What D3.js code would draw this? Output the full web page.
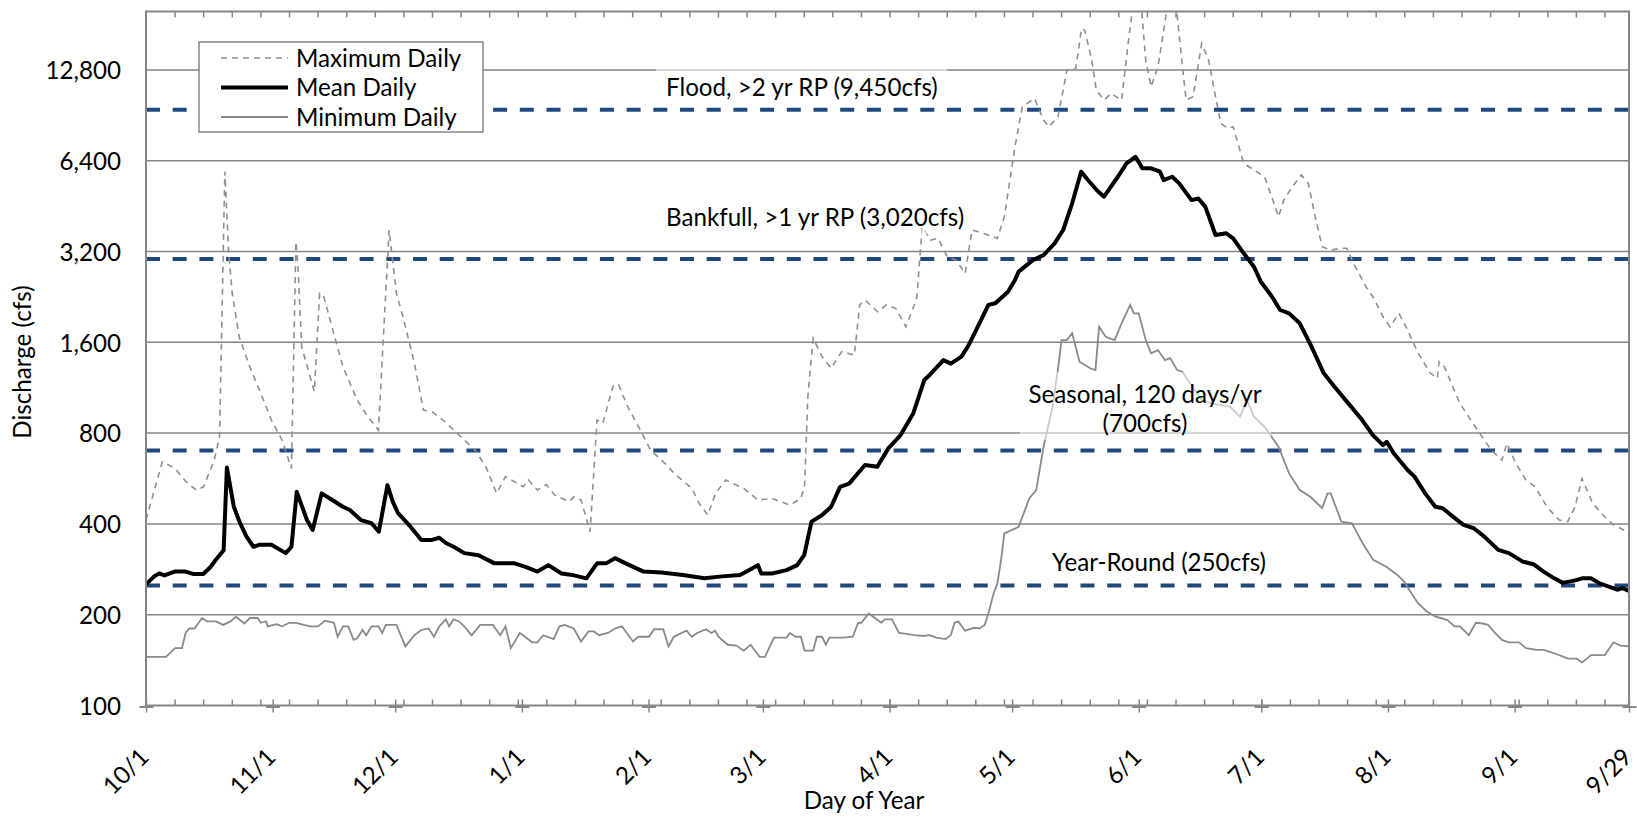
<!DOCTYPE html>
<html>
<head>
<meta charset="utf-8">
<script src="https://cdn.jsdelivr.net/npm/d3@7"></script>
<style>
  body { margin: 0; background: #fff; }
  text { font-family: Lato, "Open Sans", sans-serif; fill: #000; }
</style>
</head>
<body>
<script>
// x axis: day index from 10/1
const tickDays = [0, 31, 61, 92, 123, 151, 182, 212, 243, 273, 304, 335, 363];
const tickLabels = ["10/1", "11/1", "12/1", "1/1", "2/1", "3/1", "4/1", "5/1", "6/1", "7/1", "8/1", "9/1", "9/29"];
const yTicks = [100, 200, 400, 800, 1600, 3200, 6400, 12800];

const thresholdValues = [9450, 3020, 700, 250];
const thresholdLabels = [
  ["Flood, >2 yr RP (9,450cfs)"],
  ["Bankfull, >1 yr RP (3,020cfs)"],
  ["Seasonal, 120 days/yr", "(700cfs)"],
  ["Year-Round (250cfs)"]
];
const seriesNames = ["Maximum Daily", "Mean Daily", "Minimum Daily"];

// [day, cfs]
const meanDaily = [[0,252],[2,268],[3.2,274],[4.5,270],[7,278],[9.7,278],[11.5,273],[14,273],[15.8,288],[17,303],[19,327],[19.8,615],[21.5,456],[23,403],[24.6,363],[26.3,336],[27.7,341],[30.7,341],[34.2,320],[35.6,336],[36.9,511],[39.4,412],[40.8,382],[43,505],[45.6,480],[48.2,456],[49.9,445],[52.6,412],[55.2,402],[57,377],[59.1,538],[60.4,474],[61.7,434],[64.8,391],[67.4,354],[70,354],[71.8,360],[73.5,345],[75.3,336],[77.9,320],[81.4,315],[85.3,296],[90.2,296],[92.9,288],[95.8,278],[98.5,292],[101.7,274],[104.3,271],[107.8,264],[110.4,296],[112.6,296],[114.8,308],[117.4,296],[121.8,278],[126.2,276],[131.4,271],[136.7,264],[141,268],[145.4,271],[149.8,292],[150.6,274],[153.2,274],[156.8,281],[159.4,292],[161.1,315],[162.9,407],[165.5,428],[167.7,456],[169.9,531],[172.1,544],[176,627],[179,619],[181.7,712],[184.7,788],[187.8,930],[190.5,1200],[191.8,1247],[195.2,1397],[197,1360],[199.6,1434],[201.4,1568],[204,1850],[206.2,2130],[207.9,2155],[211,2355],[212.7,2574],[213.6,2744],[217.1,2998],[219.7,3115],[222.4,3406],[224.5,3772],[226.7,4624],[228.9,5885],[230.2,5600],[232.8,5100],[234.5,4864],[236.2,5250],[237.9,5664],[240,6272],[242.2,6597],[243.9,6039],[246,6039],[248.2,5885],[249.1,5522],[251.2,5664],[252.9,5386],[255.9,4740],[257.6,4800],[259.3,4500],[261.8,3630],[264.4,3680],[266.1,3538],[268.7,3155],[271.2,2850],[272.9,2540],[275.5,2280],[277.6,2048],[279.8,1996],[282.4,1850],[284.9,1588],[288.3,1263],[290.9,1140],[294.3,1004],[297.7,884],[300.3,788],[302.8,730],[303.7,749],[305.4,686],[308.8,604],[310.5,574],[313.1,505],[315.6,456],[317.4,451],[319.9,423],[322.5,397],[325,387],[327.6,363],[331,328],[333.6,320],[337,300],[339.6,294],[342.1,278],[344.7,264],[346.8,255],[349.8,260],[351.5,264],[353.7,264],[355.8,254],[358.4,247],[360.1,242],[361.4,245],[363,240]];

const maxDaily = [[0,412],[4,643],[7.1,611],[9.8,552],[12.3,518],[14.1,531],[16.7,651],[18,778],[19.3,5885],[20.2,3237],[21.1,2326],[22.8,1670],[25.4,1328],[28.1,1084],[30.7,884],[33.3,759],[35.6,611],[36.7,3449],[37.2,2850],[38.1,1547],[41.2,1098],[42.5,2326],[43.4,2296],[46.4,1628],[48.2,1328],[51.7,1030],[54.3,907],[56.9,819],[59.5,3772],[61.3,2326],[63.1,1897],[65.7,1364],[67.9,954],[70,942],[72.7,884],[75.3,819],[77.9,759],[80.5,703],[83.2,619],[85.8,505],[88,574],[90.2,552],[92.3,531],[93.6,559],[95.8,518],[98,540],[100,499],[103.5,474],[104.8,492],[106.5,480],[108.7,377],[110.4,884],[111.8,862],[114.4,1155],[115.7,1155],[117.9,979],[121,819],[123.5,703],[127,635],[129.7,581],[133.6,525],[135.4,468],[137.5,428],[139.4,505],[141.9,559],[146.3,525],[149.8,480],[153.2,486],[157.6,462],[160.3,486],[161.2,531],[162,1056],[163.3,1650],[165.5,1434],[167.7,1313],[170.3,1490],[173.4,1452],[174.7,2130],[176,2210],[179.1,2020],[181.2,2130],[183.5,2074],[186,1802],[187.9,2100],[188.7,2266],[190,3866],[192.1,3494],[193.9,3538],[196.1,3076],[198.3,2998],[200.5,2708],[202.2,3772],[204.9,3680],[208.4,3538],[210.1,4173],[212.7,7120],[214.5,9668],[217.5,10300],[219.7,8730],[221,8294],[223.2,8950],[224.5,10980],[225.4,12790],[227.6,12960],[229,17580],[229.8,17300],[231.5,13800],[232.6,11000],[234.5,10170],[236.2,10700],[238.8,10170],[240.5,16080],[241.8,22000],[243.5,22000],[244.7,13800],[246,11260],[247.7,13100],[250.3,22000],[252,22000],[253.7,13100],[254.6,10170],[256.3,10430],[258.4,15680],[260.1,13800],[261.8,10430],[263.1,8515],[264.8,8200],[266.1,8294],[268.7,6272],[271.2,5962],[273.8,5664],[276.4,4500],[277.2,4173],[278.5,4740],[280.6,5250],[282.8,5740],[284.5,5386],[286.2,4173],[287.9,3320],[290,3237],[292.6,3280],[293.9,3280],[296,2850],[298.6,2446],[300.3,2266],[302.8,1945],[304.5,1802],[306.7,1996],[308.8,1757],[311.4,1471],[314.4,1263],[316.1,1216],[316.5,1380],[317.8,1328],[321.6,1004],[325.9,819],[329.3,703],[331.9,651],[333.1,740],[335.3,635],[337.8,559],[340,531],[342.9,456],[345.9,412],[348,407],[349.8,456],[351.5,566],[354.1,468],[356.6,428],[359.2,397],[362.6,377],[363,370]];

const minDaily = [[0,145],[4.9,145],[7.1,155],[8.8,155],[9.7,174],[10.6,180],[11.9,180],[13.7,195],[14.9,190],[17.1,190],[18.9,185],[20.7,190],[22,197],[24.1,187],[25.4,195],[27.3,195],[28.1,188],[29.4,190],[29.8,183],[32,186],[33.3,183],[35.1,188],[36.8,188],[38.6,185],[40.3,183],[42.1,183],[43.8,191],[46,188],[46.9,169],[48.2,183],[49.5,183],[50.8,165],[51.7,167],[53,178],[53.9,171],[55.2,183],[56.9,183],[57.8,174],[58.7,185],[61.3,185],[63.5,157],[65.7,171],[67.4,178],[69.2,180],[70.5,169],[71.8,183],[73.4,193],[74.2,183],[75.3,193],[76.6,190],[77.9,183],[79.7,171],[81.8,185],[84.9,185],[86.7,171],[88,183],[89.3,155],[91.5,174],[92.8,169],[94.5,162],[95.8,162],[97.2,171],[99.8,166],[101.2,183],[102.5,185],[104.7,180],[106.5,163],[108.3,176],[109.6,176],[110.9,171],[113.1,174],[114.8,180],[116.5,183],[119.2,163],[120.5,169],[123.1,169],[124.4,179],[126.6,179],[127.9,157],[129.2,169],[132.3,177],[133.6,169],[134.9,174],[137.1,179],[138.4,174],[139.3,177],[140.1,169],[142.4,159],[144.5,158],[146.3,152],[148,159],[150.2,145],[151.5,145],[153.7,168],[156.8,168],[157.6,174],[159,169],[160.3,169],[161.2,152],[163.3,152],[164.2,169],[165.5,169],[166.4,159],[167.3,168],[170.8,168],[173,169],[174.3,188],[175.1,188],[176.9,202],[180,188],[180.8,193],[182.6,193],[184.3,174],[185.7,173],[188.2,171],[190.4,170],[191.8,171],[193.5,168],[195.7,166],[197,171],[197.9,188],[198.8,190],[200.5,177],[202.7,181],[204,180],[205.3,185],[206.2,202],[207.5,236],[208.4,254],[209.3,304],[210.1,372],[213.6,391],[216.2,486],[217.9,518],[219.7,721],[221.9,979],[223.2,1295],[224.1,1628],[225.4,1628],[226.7,1714],[228.5,1380],[231.1,1313],[232.4,1295],[233.3,1802],[234.9,1670],[237.1,1628],[238.8,1850],[240.9,2130],[241.8,1996],[243,1996],[244.7,1628],[246,1471],[247.7,1508],[249.4,1397],[250.7,1418],[252.4,1295],[253.7,1278],[255,1200],[258.4,1030],[261,1004],[265.3,979],[267.8,907],[269.5,1030],[271.2,907],[273.8,840],[275.5,778],[277.2,721],[279.8,588],[282.4,518],[285,492],[287.9,451],[289.2,505],[290,505],[292.6,407],[295.2,402],[297.8,345],[300.4,304],[303.7,288],[306.3,271],[308,257],[309.7,236],[311.4,218],[313.5,205],[315.7,197],[318.6,192],[320.3,183],[321.6,183],[323.8,171],[325.5,188],[327.2,187],[328.5,185],[330.2,174],[331.9,165],[333.6,162],[336.1,162],[337.8,155],[340.4,153],[342.1,153],[344.7,149],[348.1,143],[350.2,143],[351.5,139],[352.4,142],[353.7,147],[357.1,147],[359.2,162],[360.9,158],[363,157]];

let width = 1637;
let height = 817;
let svg = d3.select("body").append("svg")
  .attr("width", width)
  .attr("height", height);

const plotLeft = 146, plotRight = 1629, plotTop = 11.5, plotBottom = 705.5;
const grey = "#868686";
const blue = "#1f497d";

let x = d3.scaleLinear().domain([0, 363]).range([plotLeft, plotRight]);
let y = d3.scaleLog().domain([100, 20000]).range([plotBottom, plotTop]);

// size the font so the flood label is as wide as in the original
let probe = svg.append("text").style("font-size", "100px").text(thresholdLabels[0][0]);
let fs = 100 * 272 / probe.node().getComputedTextLength();
probe.remove();
svg.style("font-size", fs + "px");

svg.append("clipPath").attr("id", "plotclip")
  .append("rect")
  .attr("x", plotLeft).attr("y", plotTop)
  .attr("width", plotRight - plotLeft).attr("height", plotBottom - plotTop);

// horizontal gridlines
svg.append("g").selectAll("line")
  .data(yTicks.slice(1))
  .enter().append("line")
  .attr("x1", plotLeft).attr("x2", plotRight)
  .attr("y1", d => y(d)).attr("y2", d => y(d))
  .attr("stroke", grey)
  .attr("stroke-width", 1.5);

// threshold lines
svg.append("g").selectAll("line")
  .data(thresholdValues)
  .enter().append("line")
  .attr("x1", plotLeft).attr("x2", plotRight)
  .attr("y1", d => y(d)).attr("y2", d => y(d))
  .attr("stroke", blue)
  .attr("stroke-width", 4)
  .attr("stroke-dasharray", "14,12.7");

let line = d3.line().x(d => x(d[0])).y(d => y(d[1]));
let series = svg.append("g").attr("clip-path", "url(#plotclip)");

series.append("path").datum(minDaily)
  .attr("d", line)
  .attr("fill", "none")
  .attr("stroke", "#8a8a8a")
  .attr("stroke-width", 1.8);

series.append("path").datum(maxDaily)
  .attr("d", line)
  .attr("fill", "none")
  .attr("stroke", "#8f8f8f")
  .attr("stroke-width", 1.6)
  .attr("stroke-dasharray", "6,5");

series.append("path").datum(meanDaily)
  .attr("d", line)
  .attr("fill", "none")
  .attr("stroke", "#000")
  .attr("stroke-width", 4)
  .attr("stroke-linejoin", "round");

// threshold labels, each in a half-transparent white box
const labelBoxes = [[656, 66, 291, 38], [656, 196, 316, 38], [1020, 372, 251, 68], [1040, 546, 240, 32]];
const labelPos = [[666, 96, "start"], [666, 226, "start"], [1145, 403, "middle"], [1159, 571, "middle"]];
let labels = svg.append("g");
labels.selectAll("rect")
  .data(labelBoxes)
  .enter().append("rect")
  .attr("x", d => d[0]).attr("y", d => d[1])
  .attr("width", d => d[2]).attr("height", d => d[3])
  .attr("fill", "#fff")
  .attr("fill-opacity", 0.55);
thresholdLabels.forEach((lines, i) => {
  let t = labels.append("text")
    .attr("x", labelPos[i][0])
    .attr("y", labelPos[i][1])
    .attr("text-anchor", labelPos[i][2]);
  lines.forEach((s, j) => {
    t.append("tspan")
      .attr("x", labelPos[i][0])
      .attr("dy", j == 0 ? 0 : 29)
      .text(s);
  });
});

// frame
svg.append("rect")
  .attr("x", plotLeft).attr("y", plotTop)
  .attr("width", plotRight - plotLeft).attr("height", plotBottom - plotTop)
  .attr("fill", "none")
  .attr("stroke", grey)
  .attr("stroke-width", 2);

// weekly minor ticks, inside, bottom and top
let weeks = d3.range(7, 363, 7);
let minorBottom = svg.append("g")
  .attr("transform", `translate(0,${plotBottom})`)
  .call(d3.axisBottom(x).tickValues(weeks).tickSize(-6).tickSizeOuter(0).tickFormat(""));
let minorTop = svg.append("g")
  .attr("transform", `translate(0,${plotTop})`)
  .call(d3.axisTop(x).tickValues(weeks).tickSize(-6).tickSizeOuter(0).tickFormat(""));
[minorBottom, minorTop].forEach(g => {
  g.select(".domain").remove();
  g.selectAll("line").attr("stroke", grey).attr("stroke-width", 1.5);
});

// month ticks with rotated labels
let xAxis = svg.append("g")
  .attr("transform", `translate(0,${plotBottom})`)
  .call(d3.axisBottom(x).tickValues(tickDays).tickSize(0).tickFormat((d, i) => tickLabels[i]));
xAxis.select(".domain").remove();
xAxis.selectAll(".tick text")
  .attr("y", 0).attr("dy", 0)
  .attr("text-anchor", "end")
  .attr("transform", "translate(4,53) rotate(-45)")
  .style("font-size", fs + "px")
  .style("font-family", "Lato, 'Open Sans', sans-serif")
  .attr("fill", "#000");
xAxis.selectAll(".tick").append("line")
  .attr("y1", -6).attr("y2", 7)
  .attr("stroke", grey).attr("stroke-width", 1.5);
xAxis.selectAll(".tick").append("line")
  .attr("x1", -7).attr("x2", 7).attr("y1", 1.5).attr("y2", 1.5)
  .attr("stroke", grey).attr("stroke-width", 2);

// y labels
let yAxis = svg.append("g")
  .attr("transform", `translate(${plotLeft},0)`)
  .call(d3.axisLeft(y).tickValues(yTicks).tickSize(0).tickPadding(25).tickFormat(d3.format(",")));
yAxis.select(".domain").remove();
yAxis.selectAll("text")
  .style("font-size", fs + "px")
  .style("font-family", "Lato, 'Open Sans', sans-serif")
  .attr("fill", "#000")
  .attr("dy", "0.36em");

// axis titles
svg.append("text")
  .attr("transform", "translate(31,362) rotate(-90)")
  .attr("text-anchor", "middle")
  .text("Discharge (cfs)");
svg.append("text")
  .attr("x", 864).attr("y", 809)
  .attr("text-anchor", "middle")
  .text("Day of Year");

// legend
let legend = svg.append("g");
legend.append("rect")
  .attr("x", 199).attr("y", 42)
  .attr("width", 284).attr("height", 90)
  .attr("fill", "#fff")
  .attr("stroke", grey)
  .attr("stroke-width", 1.5);
const legendStyles = [
  { stroke: "#8f8f8f", width: 1.6, dash: "6,5" },
  { stroke: "#000", width: 4, dash: null },
  { stroke: "#8a8a8a", width: 1.8, dash: null }
];
seriesNames.forEach((name, i) => {
  let ly = 58 + i * 29.5;
  legend.append("line")
    .attr("x1", 221).attr("x2", 288)
    .attr("y1", ly).attr("y2", ly)
    .attr("stroke", legendStyles[i].stroke)
    .attr("stroke-width", legendStyles[i].width)
    .attr("stroke-dasharray", legendStyles[i].dash);
  legend.append("text")
    .attr("x", 296).attr("y", ly + 8.5)
    .text(name);
});
</script>
</body>
</html>
